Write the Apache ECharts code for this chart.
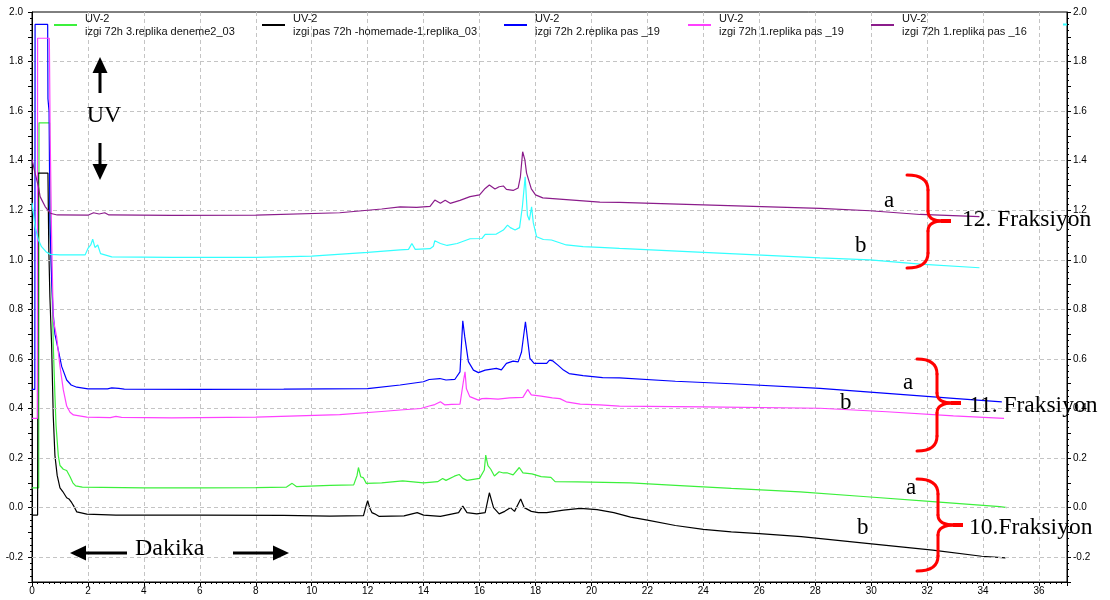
<!DOCTYPE html>
<html><head><meta charset="utf-8">
<script src="https://cdn.jsdelivr.net/npm/echarts@6/dist/echarts.min.js"></script>
<style>html,body{margin:0;padding:0;background:#fff}#c{width:1110px;height:600px}</style>
</head><body><div id="c"></div>
<script>
// ---- data (time in minutes, absorbance) ----
const detectorLabel = 'UV-2';
const seriesNames = [
  'izgi 72h 3.replika deneme2_03',
  'izgi pas 72h -homemade-1.replika_03',
  'izgi 72h 2.replika pas _19',
  'izgi 72h 1.replika pas _19',
  'izgi 72h 1.replika pas _16',
  '12. Fraksiyon b'
];
const green = [[0,0.08],[0.24,0.08],[0.25,1.553],[0.63,1.553],[0.65,1.1],[0.7,0.95],[0.76,0.66],[0.82,0.45],[0.86,0.33],[0.94,0.21],[1.0,0.17],[1.12,0.155],[1.24,0.15],[1.36,0.125],[1.46,0.1],[1.56,0.088],[1.8,0.083],[2.5,0.082],[4,0.08],[6,0.08],[8,0.081],[9.1,0.083],[9.3,0.098],[9.45,0.085],[10.65,0.09],[11.5,0.092],[11.62,0.13],[11.67,0.162],[11.75,0.125],[11.85,0.12],[11.95,0.098],[12.5,0.1],[13.25,0.108],[14.0,0.1],[14.5,0.105],[14.68,0.118],[14.8,0.11],[15.1,0.127],[15.27,0.134],[15.4,0.118],[15.55,0.11],[16.0,0.118],[16.17,0.152],[16.22,0.212],[16.3,0.17],[16.4,0.155],[16.53,0.128],[16.7,0.145],[16.85,0.14],[17.0,0.14],[17.2,0.132],[17.42,0.162],[17.55,0.14],[17.87,0.136],[18.2,0.125],[18.55,0.122],[18.7,0.105],[19.5,0.104],[21.4,0.1],[23,0.09],[25,0.078],[27.46,0.064],[29.84,0.044],[32.2,0.024],[34.6,0.004],[34.86,0.0]];
const black = [[0,-0.03],[0.2,-0.03],[0.22,1.35],[0.57,1.35],[0.6,1.05],[0.64,0.85],[0.7,0.66],[0.76,0.37],[0.82,0.21],[0.9,0.13],[1.0,0.08],[1.1,0.065],[1.24,0.04],[1.32,0.035],[1.42,0.02],[1.5,0.005],[1.6,-0.017],[1.96,-0.026],[3,-0.03],[6,-0.03],[9,-0.031],[10.65,-0.034],[11.85,-0.032],[11.95,0.01],[12.0,0.028],[12.07,0.0],[12.15,-0.02],[12.25,-0.025],[12.4,-0.035],[13.3,-0.033],[13.77,-0.02],[14.0,-0.03],[14.6,-0.035],[15.25,-0.02],[15.4,0.006],[15.55,-0.02],[15.9,-0.025],[16.2,-0.02],[16.35,0.06],[16.5,0.0],[16.7,-0.025],[16.9,-0.015],[17.1,0.0],[17.25,-0.015],[17.47,0.035],[17.6,0.0],[17.85,-0.015],[18.1,-0.02],[18.4,-0.02],[19.0,-0.01],[19.6,-0.003],[20.2,-0.008],[20.8,-0.02],[21.4,-0.038],[22,-0.05],[23,-0.072],[24,-0.088],[25,-0.098],[26,-0.105],[27.5,-0.117],[29.84,-0.144],[32.2,-0.171],[33.95,-0.196],[34.8,-0.203]];
const blue = [[0,0.477],[0.1,0.477],[0.11,1.95],[0.56,1.95],[0.57,1.65],[0.61,1.6],[0.64,1.16],[0.7,0.92],[0.76,0.78],[0.82,0.7],[0.94,0.636],[1.06,0.57],[1.24,0.515],[1.4,0.495],[1.6,0.486],[2.0,0.479],[2.7,0.479],[2.85,0.483],[3.1,0.481],[3.3,0.478],[6,0.477],[9,0.478],[12,0.48],[13.16,0.495],[13.99,0.508],[14.2,0.517],[14.58,0.521],[14.8,0.515],[15.12,0.518],[15.3,0.548],[15.4,0.754],[15.47,0.69],[15.6,0.589],[15.78,0.555],[15.96,0.545],[16.2,0.555],[16.6,0.562],[16.78,0.556],[16.96,0.582],[17.2,0.591],[17.38,0.588],[17.5,0.628],[17.64,0.75],[17.72,0.676],[17.8,0.602],[17.95,0.582],[18.4,0.582],[18.5,0.595],[18.55,0.588],[18.62,0.592],[18.8,0.575],[19.0,0.555],[19.2,0.541],[19.7,0.533],[20.4,0.525],[21,0.524],[23,0.51],[25,0.5],[28.17,0.481],[30.56,0.461],[32.94,0.441],[34.67,0.427]];
const magenta = [[0,0.36],[0.19,0.36],[0.2,1.894],[0.62,1.894],[0.65,1.5],[0.7,1.1],[0.76,0.76],[0.88,0.69],[1.0,0.57],[1.12,0.475],[1.24,0.41],[1.36,0.385],[1.48,0.374],[1.96,0.365],[2.8,0.363],[3.0,0.368],[3.2,0.364],[5,0.362],[8,0.365],[11,0.375],[12.5,0.388],[13.16,0.394],[13.9,0.4],[14.2,0.41],[14.4,0.416],[14.6,0.427],[14.75,0.415],[15.0,0.417],[15.3,0.418],[15.42,0.508],[15.48,0.548],[15.53,0.48],[15.65,0.448],[15.96,0.434],[16.08,0.44],[16.24,0.441],[16.66,0.438],[17.07,0.443],[17.55,0.445],[17.72,0.477],[17.85,0.455],[18.2,0.45],[18.6,0.443],[18.87,0.44],[19.1,0.427],[19.6,0.418],[20.3,0.415],[21,0.41],[24,0.407],[28.17,0.401],[30.56,0.387],[32.94,0.37],[34.75,0.36]];
const purple = [[0,1.405],[0.11,1.35],[0.23,1.295],[0.29,1.255],[0.47,1.215],[0.65,1.188],[0.9,1.181],[2.0,1.18],[2.2,1.19],[2.4,1.185],[2.6,1.19],[2.75,1.181],[5,1.179],[8,1.18],[11,1.19],[12.5,1.205],[13.16,1.214],[13.75,1.212],[14.23,1.216],[14.4,1.241],[14.6,1.228],[14.77,1.24],[14.95,1.228],[15.3,1.24],[15.66,1.255],[16.0,1.262],[16.2,1.288],[16.35,1.302],[16.55,1.286],[16.7,1.295],[16.85,1.298],[16.96,1.284],[17.2,1.28],[17.38,1.29],[17.46,1.335],[17.54,1.436],[17.62,1.403],[17.68,1.35],[17.85,1.286],[18.0,1.262],[18.26,1.25],[18.86,1.245],[19.7,1.238],[20.3,1.233],[21.0,1.232],[24,1.222],[28.17,1.208],[29.96,1.198],[31.75,1.183],[33.87,1.174]];
const cyan = [[0,1.23],[0.11,1.134],[0.23,1.08],[0.34,1.053],[0.5,1.033],[0.65,1.022],[1.0,1.02],[1.9,1.02],[2.0,1.046],[2.1,1.06],[2.17,1.083],[2.25,1.05],[2.35,1.06],[2.45,1.025],[2.85,1.012],[5,1.01],[8,1.01],[10,1.015],[12,1.03],[13.16,1.04],[13.46,1.042],[13.58,1.066],[13.7,1.042],[14.23,1.045],[14.35,1.055],[14.4,1.077],[14.6,1.066],[14.84,1.058],[15.2,1.066],[15.66,1.085],[16.08,1.086],[16.2,1.103],[16.6,1.104],[16.85,1.12],[17.0,1.14],[17.1,1.13],[17.27,1.12],[17.43,1.13],[17.53,1.214],[17.63,1.335],[17.71,1.18],[17.78,1.16],[17.86,1.214],[17.92,1.15],[18.04,1.093],[18.28,1.082],[18.57,1.08],[19.1,1.06],[19.7,1.053],[20.3,1.05],[21,1.046],[24,1.03],[28.17,1.008],[29.96,1.0],[31.75,0.983],[33.87,0.968]];
const seriesData = [green, black, blue, magenta, purple, cyan];
const yGridValues = [-0.2, 0.0, 0.2, 0.4, 0.6, 0.8, 1.0, 1.2, 1.4, 1.6, 1.8];
const annotationLabels = { uv: 'UV', time: 'Dakika', f12: '12. Fraksiyon', f11: '11. Fraksiyon', f10: '10.Fraksiyon', a: 'a', b: 'b' };

// ---- styles ----
const seriesColors = ['#3cf03c', '#000000', '#0000ff', '#ff40ff', '#8b1c8b', '#33ffff'];
const legendLeft = [54, 262, 504, 688, 871, 1063];
const legendTop = [12, 12, 12, 12, 12, 18];
const SERIF = '"Liberation Serif", "Times New Roman", serif';
const SANS = '"Liberation Sans", Arial, sans-serif';
const GRID_COLOR = '#c4c4c4';

const chart = echarts.init(document.getElementById('c'), null, { renderer: 'canvas' });

const legends = seriesNames.map((n, i) => ({
  data: [n], left: legendLeft[i], top: legendTop[i], padding: 0, orient: 'horizontal',
  icon: 'rect', itemWidth: i === 5 ? 4 : 23, itemHeight: 2, selectedMode: false,
  formatter: i === 5 ? () => ' ' : (name) => detectorLabel + '\n' + name,
  textStyle: { fontFamily: SANS, fontSize: 11, color: '#111', lineHeight: 13, padding: [0, 0, 0, 3] }
}));

const series = seriesData.map((d, i) => ({
  type: 'line', name: seriesNames[i], data: d, showSymbol: false, symbol: 'none',
  lineStyle: { width: 1.2, color: seriesColors[i] }, itemStyle: { color: seriesColors[i] },
  emphasis: { disabled: true }, animation: false, clip: true, z: 3 + i
}));
// horizontal dashed grid lines at the labelled values
series.unshift({
  type: 'line', name: '_grid', data: [], z: 1, silent: true, animation: false,
  markLine: { silent: true, symbol: ['none', 'none'], animation: false,
    label: { show: false }, emphasis: { disabled: true },
    lineStyle: { color: GRID_COLOR, width: 1, type: [4, 3] },
    data: yGridValues.map(v => ({ yAxis: v })) }
});

const RED = '#ff0000';
function txt(text, x, y, size, align) {
  return { type: 'text', x: x, y: y, z: 100,
    style: { text: text, font: size + 'px ' + SERIF, fill: '#000',
      align: align || 'left', verticalAlign: 'middle', textAlign: align || 'left', textVerticalAlign: 'middle' } };
}
function arrow(x1, y1, x2, y2) {
  const dx = x2 - x1, dy = y2 - y1, L = Math.sqrt(dx * dx + dy * dy);
  const ux = dx / L, uy = dy / L, hl = 16, hw = 7.5;
  const bx = x2 - ux * hl, by = y2 - uy * hl;
  return [
    { type: 'line', z: 100, shape: { x1: x1, y1: y1, x2: bx, y2: by }, style: { stroke: '#000', lineWidth: 3 } },
    { type: 'polygon', z: 100, shape: { points: [[x2, y2], [bx - uy * hw, by + ux * hw], [bx + uy * hw, by - ux * hw]] }, style: { fill: '#000' } }
  ];
}
function brace(x0, xv, xt, top, mid, bot) {
  const st = { stroke: RED, lineWidth: 3, fill: null, lineCap: 'round' };
  return [
    { type: 'bezierCurve', z: 100, shape: { x1: x0, y1: top, cpx1: xv, cpy1: top, x2: xv, y2: top + 15 }, style: st },
    { type: 'line', z: 100, shape: { x1: xv, y1: top + 15, x2: xv, y2: mid - 10 }, style: st },
    { type: 'bezierCurve', z: 100, shape: { x1: xv, y1: mid - 10, cpx1: xv, cpy1: mid, x2: xt - 8, y2: mid }, style: st },
    { type: 'bezierCurve', z: 100, shape: { x1: xv, y1: mid + 10, cpx1: xv, cpy1: mid, x2: xt - 8, y2: mid }, style: st },
    { type: 'line', z: 100, shape: { x1: xt - 10, y1: mid, x2: xt, y2: mid }, style: { stroke: RED, lineWidth: 4 } },
    { type: 'line', z: 100, shape: { x1: xv, y1: mid + 10, x2: xv, y2: bot - 15 }, style: st },
    { type: 'bezierCurve', z: 100, shape: { x1: xv, y1: bot - 15, cpx1: xv, cpy1: bot, x2: x0, y2: bot }, style: st }
  ];
}

const graphics = [].concat(
  arrow(100, 93, 100, 57), arrow(100, 143, 100, 180),
  arrow(127, 553, 70, 553), arrow(233, 553, 289, 553),
  [txt(annotationLabels.uv, 104, 116, 24, 'center'), txt(annotationLabels.time, 135, 549, 24)],
  brace(907, 928, 951, 175, 221, 268),
  brace(917, 937, 961, 359, 403, 451),
  brace(917, 938, 963, 479, 525, 571),
  [
    txt(annotationLabels.f12, 962, 220, 23.5), txt(annotationLabels.f11, 969, 406, 23.5), txt(annotationLabels.f10, 969, 528, 23.5),
    txt(annotationLabels.a, 884, 201, 23), txt(annotationLabels.b, 855, 246, 23),
    txt(annotationLabels.a, 903, 383, 23), txt(annotationLabels.b, 840, 403, 23),
    txt(annotationLabels.a, 906, 488, 23), txt(annotationLabels.b, 857, 528, 23)
  ]
);

const yLabelFmt = (v) => { const r = Math.round(v * 10); return (r % 2 === 0) ? (r / 10).toFixed(1) : ''; };
function yAxis(pos) {
  return {
    type: 'value', position: pos, min: -0.3, max: 2.0, interval: 0.1,
    axisLine: { show: true, onZero: false, lineStyle: { color: '#000', width: 1 } },
    axisTick: { show: true, inside: false, length: 4, lineStyle: { color: '#000' } },
    minorTick: { show: true, splitNumber: 4, length: 2, lineStyle: { color: '#000' } },
    axisLabel: { show: true, formatter: yLabelFmt, color: '#000', fontFamily: SANS, fontSize: 10, margin: pos === 'left' ? 9 : 6 },
    splitLine: { show: false },
    minorSplitLine: { show: false }
  };
}

const option = {
  backgroundColor: '#fff',
  animation: false,
  grid: { left: 32, right: 43, top: 12, bottom: 18, containLabel: false, outerBoundsMode: 'none',
    show: true, borderColor: '#000', borderWidth: 1, backgroundColor: 'transparent' },
  legend: legends,
  xAxis: {
    type: 'value', min: 0, max: 37, interval: 2,
    axisLine: { show: true, onZero: false, lineStyle: { color: '#000', width: 1 } },
    axisTick: { show: true, length: 4, lineStyle: { color: '#000' } },
    minorTick: { show: true, splitNumber: 10, length: 2, lineStyle: { color: '#000' } },
    axisLabel: { color: '#000', fontFamily: SANS, fontSize: 10, margin: 4, showMaxLabel: false,
      formatter: (v) => (Math.round(v) % 2 === 0 ? String(Math.round(v)) : '') },
    splitLine: { show: true, lineStyle: { color: GRID_COLOR, width: 1, type: [4, 3] } }
  },
  yAxis: [yAxis('left'), yAxis('right')],
  series: series,
  graphic: { elements: graphics }
};
chart.setOption(option);
</script></body></html>
